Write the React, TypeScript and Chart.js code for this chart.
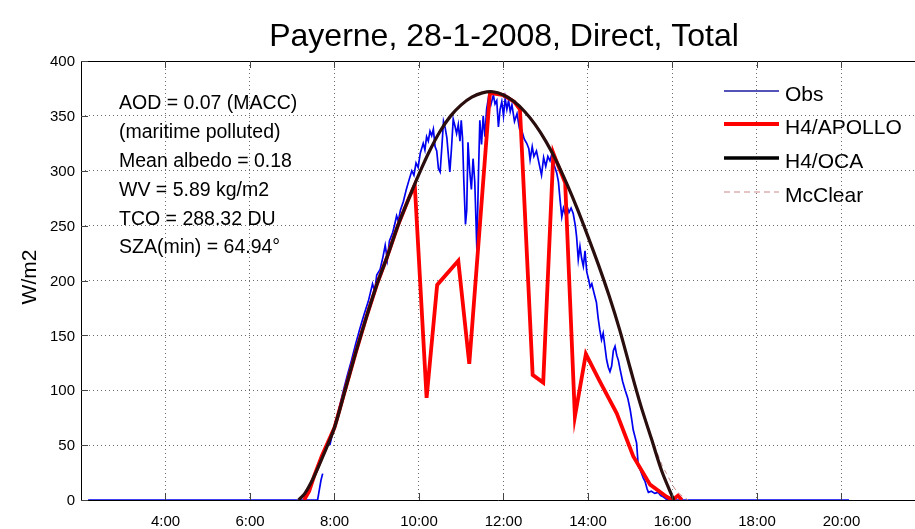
import React, { useEffect, useRef } from "react";
import { Chart, registerables } from "chart.js";

Chart.register(...registerables);

const TITLE = "Payerne, 28-1-2008, Direct, Total";
const Y_LABEL = "W/m2";
const X_TICKS = [4, 6, 8, 10, 12, 14, 16, 18, 20];
const X_TICK_LABELS = ["4:00", "6:00", "8:00", "10:00", "12:00", "14:00", "16:00", "18:00", "20:00"];
const Y_TICKS = [0, 50, 100, 150, 200, 250, 300, 350, 400];
const INFO_LINES = [
  "AOD = 0.07 (MACC)",
  "(maritime polluted)",
  "Mean albedo = 0.18",
  "WV = 5.89 kg/m2",
  "TCO = 288.32 DU",
  "SZA(min) = 64.94°",
];
const SERIES_NAMES = ["Obs", "H4/APOLLO", "H4/OCA", "McClear"];

// Observations (time in decimal hours, W/m2)
const obsTime = [
  2.17, 7.6, 7.64, 7.68, 7.72, 7.8, 7.89, 8.0, 8.1, 8.2, 8.3, 8.4, 8.5, 8.6, 8.7, 8.8, 8.9, 8.95, 9.0, 9.08,
  9.15, 9.2, 9.25, 9.3, 9.38, 9.43, 9.47, 9.51, 9.56, 9.63, 9.7, 9.76, 9.83, 9.88, 9.93, 9.98, 10.03, 10.1,
  10.14, 10.18, 10.22, 10.26, 10.3, 10.34, 10.38, 10.42, 10.46, 10.5, 10.54, 10.58, 10.62, 10.66, 10.7,
  10.73, 10.77, 10.81, 10.85, 10.89, 10.93, 10.97, 11.0, 11.03, 11.06, 11.1, 11.13, 11.16, 11.2, 11.24,
  11.28, 11.32, 11.37, 11.41, 11.44, 11.48, 11.52, 11.56, 11.6, 11.65, 11.7, 11.76, 11.8, 11.84, 11.88,
  11.92, 11.96, 12.0, 12.04, 12.08, 12.12, 12.16, 12.2, 12.26, 12.32, 12.38, 12.43, 12.49, 12.55, 12.6,
  12.63, 12.68, 12.72, 12.78, 12.84, 12.9, 12.95, 13.0, 13.05, 13.1, 13.15, 13.2, 13.26, 13.3, 13.34,
  13.38, 13.42, 13.46, 13.5, 13.55, 13.6, 13.65, 13.7, 13.73, 13.77, 13.81, 13.85, 13.89, 13.93, 13.97,
  14.02, 14.05, 14.09, 14.14, 14.2, 14.24, 14.28, 14.32, 14.36, 14.4, 14.44, 14.48, 14.52, 14.56, 14.6,
  14.64, 14.68, 14.72, 14.76, 14.82, 14.88, 14.94, 15.0, 15.04, 15.07, 15.11, 15.15, 15.19, 15.23, 15.27,
  15.31, 15.35, 15.4, 15.43, 15.5, 15.58, 15.66, 15.72, 15.78, 15.85, 15.9, 20.18,
];
const obsWm2: (number | null)[] = [
  0, 0, 9, 18, 24, null, 50, 68, 82, 98, 113, 127, 142, 156, 169, 181, 197, 190, 205, 210,
  222, 232, 219, 236, 244, 252, 259, 254, 264, 272, 283, 291, 300, 296, 307, 303, 316, 325,
  319, 331, 327, 336, 332, 338, 322, 318, 302, 299, 321, 345, 339, 330, 312,
  299, 321, 347, 341, 334, 342, 327, 346, 330, 292, 251, 264, 326, 300, 283,
  311, 290, 228, 301, 346, 324, 350, 331, 356, 368, 360, 369, 361, 364, 340,
  356, 363, 350, 366, 356, 364, 354, 360, 345, 352, 338, 337, 329, 325, 320,
  310, 322, 313, 318, 307, 296, 312, 304, 313, 309, 316, 305, 298, 290, 273,
  258, 266, 261, 268, 262, 266, 261, 250, 240, 219, 231, 220, 213, 227, 208,
  200, 194, 197, 189, 180, 166, 155, 146, 152, 140, 128, 121, 117, 122, 136,
  140, 132, 127, 119, 108, 100, 93, 82, 72, 64, 58, 52, 31, 28, 24,
  20, 17, 10, 7, 8, 6, 7, 4, 3, 1, 0, 0,
];

// H4/APOLLO
const apolloTime = [
  7.28, 7.4, 7.52, 7.7, 8.0, 8.25, 8.5, 8.75, 9.0, 9.25, 9.5, 9.75, 9.9, 10.18, 10.43, 10.93, 11.19, 11.68,
  12.0, 12.25, 12.39, 12.69, 12.94, 13.18, 13.25, 13.46, 13.69, 13.95, 14.28, 14.68, 15.07, 15.47, 15.86,
  16.0, 16.13, 16.22,
];
const apolloWm2 = [
  0, 8, 22, 40, 66, 100, 134, 166, 196, 222, 250, 274, 287, 93, 196, 218, 124, 371,
  369, 363, 356, 114, 107, 316, 309, 289, 76, 133, 108, 79, 40, 14, 3,
  0, 4, 0,
];

// H4/OCA
const ocaTime = [
  7.15, 7.3, 7.5, 7.75, 8.0, 8.25, 8.5, 8.75, 9.0, 9.25, 9.5, 9.75, 10.0, 10.25, 10.5, 10.75, 11.0, 11.25,
  11.5, 11.75, 12.0, 12.25, 12.5, 12.75, 13.0, 13.25, 13.5, 13.75, 14.0, 14.25, 14.5, 14.75, 15.0, 15.25,
  15.5, 15.75, 16.03,
];
const ocaWm2 = [
  0, 6, 20, 42, 66, 100, 134, 166, 196, 222, 250, 274, 297, 318, 336, 350, 360, 367,
  371, 372, 369, 363, 354, 342, 327, 309, 288, 265, 240, 214, 186, 155, 120, 86,
  56, 26, 0,
];

// McClear
const mcclearTime = [
  7.12, 7.3, 7.5, 7.75, 8.0, 8.25, 8.5, 8.75, 9.0, 9.25, 9.5, 9.75, 10.0, 10.25, 10.5, 10.75, 11.0, 11.25,
  11.5, 11.75, 12.0, 12.25, 12.5, 12.75, 13.0, 13.25, 13.5, 13.75, 14.0, 14.25, 14.5, 14.75, 15.0, 15.25,
  15.5, 15.75, 15.86, 16.1, 16.37,
];
const mcclearWm2 = [
  0, 7, 21, 43, 67, 101, 135, 166, 196, 222, 250, 274, 297, 318, 336, 350, 360, 367,
  371, 372, 369, 363, 354, 342, 327, 309, 288, 265, 240, 214, 186, 155, 121, 88,
  58, 32, 24, 8, 0,
];

const COLORS = {
  obs: "#0000f0",
  apollo: "#ff0000",
  oca: "#2a0d0d",
  mcclear: "#c98a8a",
};

const FONT = '"Liberation Sans", Arial, Helvetica, sans-serif';

function pts(t: number[], v: (number | null)[]) {
  return t.map((x, i) => ({ x, y: v[i] }));
}

const overlayPlugin = {
  id: "overlay",
  afterDraw(chart: any) {
    const ctx: CanvasRenderingContext2D = chart.ctx;
    const { left, right, top, bottom } = chart.chartArea;
    const xs = chart.scales.x;
    const ys = chart.scales.y;
    ctx.save();
    // frame
    ctx.strokeStyle = "#000";
    ctx.lineWidth = 1;
    ctx.setLineDash([]);
    ctx.beginPath();
    ctx.moveTo(right + 5, top + 0.5);
    ctx.lineTo(left + 0.5, top + 0.5);
    ctx.lineTo(left + 0.5, bottom + 0.5);
    ctx.lineTo(right + 5, bottom + 0.5);
    ctx.stroke();
    // inward ticks
    ctx.strokeStyle = "#444";
    ctx.beginPath();
    Y_TICKS.forEach((v) => {
      const y = Math.round(ys.getPixelForValue(v)) + 0.5;
      ctx.moveTo(left, y);
      ctx.lineTo(left + 7, y);
    });
    X_TICKS.forEach((v) => {
      const x = Math.round(xs.getPixelForValue(v)) + 0.5;
      ctx.moveTo(x, bottom);
      ctx.lineTo(x, bottom - 7);
      ctx.moveTo(x, top);
      ctx.lineTo(x, top + 7);
    });
    ctx.stroke();

    ctx.fillStyle = "#000";
    // y tick labels
    ctx.font = `15px ${FONT}`;
    ctx.textAlign = "right";
    ctx.textBaseline = "middle";
    Y_TICKS.forEach((v) => {
      ctx.fillText(String(v), left - 6, ys.getPixelForValue(v) + 1);
    });
    // x tick labels
    ctx.textAlign = "center";
    X_TICKS.forEach((v, i) => {
      ctx.fillText(X_TICK_LABELS[i], xs.getPixelForValue(v), bottom + 22);
    });
    // title
    ctx.font = `32px ${FONT}`;
    ctx.fillText(TITLE, 504, 37);
    // y label
    ctx.save();
    ctx.translate(30, 277);
    ctx.rotate(-Math.PI / 2);
    ctx.font = `21px ${FONT}`;
    ctx.fillText(Y_LABEL, 0, 0);
    ctx.restore();
    // info text
    ctx.font = `19.5px ${FONT}`;
    ctx.textAlign = "left";
    INFO_LINES.forEach((s, i) => {
      ctx.fillText(s, 119, 104 + i * 28.8);
    });
    // legend
    const legendY = [95, 128, 162, 196];
    const styles = [
      { c: "#1a1aa0", w: 1.5, d: [] as number[] },
      { c: COLORS.apollo, w: 4, d: [] as number[] },
      { c: "#000", w: 3.5, d: [] as number[] },
      { c: COLORS.mcclear, w: 1.2, d: [6, 4] },
    ];
    SERIES_NAMES.forEach((name, i) => {
      const y = legendY[i];
      const s = styles[i];
      ctx.strokeStyle = s.c;
      ctx.lineWidth = s.w;
      ctx.setLineDash(s.d);
      ctx.beginPath();
      ctx.moveTo(724, y - 4);
      ctx.lineTo(779, y - 4);
      ctx.stroke();
      ctx.setLineDash([]);
      ctx.font = `21px ${FONT}`;
      ctx.fillStyle = "#000";
      ctx.fillText(name, 785, y);
    });
    ctx.restore();
  },
};

export default function App() {
  const ref = useRef<HTMLCanvasElement | null>(null);
  useEffect(() => {
    document.body.style.margin = "0";
    const canvas = ref.current!;
    const gridOpts = { color: "rgba(60,60,60,0.75)", lineWidth: 1, drawTicks: false };
    const chart = new Chart(canvas, {
      type: "line",
      data: {
        datasets: [
          {
            label: SERIES_NAMES[0],
            data: pts(obsTime, obsWm2),
            borderColor: COLORS.obs,
            borderWidth: 1.7,
            pointRadius: 0,
            tension: 0,
            spanGaps: false,
            order: 4,
          },
          {
            label: SERIES_NAMES[1],
            data: pts(apolloTime, apolloWm2),
            borderColor: COLORS.apollo,
            borderWidth: 3.8,
            pointRadius: 0,
            tension: 0,
            order: 3,
          },
          {
            label: SERIES_NAMES[2],
            data: pts(ocaTime, ocaWm2),
            borderColor: COLORS.oca,
            borderWidth: 3.2,
            pointRadius: 0,
            tension: 0.3,
            order: 1,
          },
          {
            label: SERIES_NAMES[3],
            data: pts(mcclearTime, mcclearWm2),
            borderColor: COLORS.mcclear,
            borderWidth: 1,
            borderDash: [5, 4],
            pointRadius: 0,
            tension: 0.3,
            order: 2,
          },
        ],
      },
      options: {
        animation: false,
        responsive: false,
        devicePixelRatio: 1,
        layout: { padding: { left: 81, top: 61, right: 0, bottom: 29 } },
        plugins: { legend: { display: false }, tooltip: { enabled: false }, title: { display: false } },
        scales: {
          x: {
            type: "linear",
            min: 2,
            max: 21.74,
            afterBuildTicks: (s: any) => {
              s.ticks = X_TICKS.map((v) => ({ value: v }));
            },
            ticks: { display: false },
            grid: gridOpts,
            border: { display: false, dash: [1, 3] },
          },
          y: {
            type: "linear",
            min: 0,
            max: 400,
            afterBuildTicks: (s: any) => {
              s.ticks = Y_TICKS.map((v) => ({ value: v }));
            },
            ticks: { display: false },
            grid: gridOpts,
            border: { display: false, dash: [1, 3] },
          },
        },
      },
      plugins: [overlayPlugin],
    });
    return () => chart.destroy();
  }, []);
  return (
    <div style={{ width: 915, height: 529, background: "#fff" }}>
      <canvas ref={ref} width={915} height={529} style={{ display: "block" }} />
    </div>
  );
}
